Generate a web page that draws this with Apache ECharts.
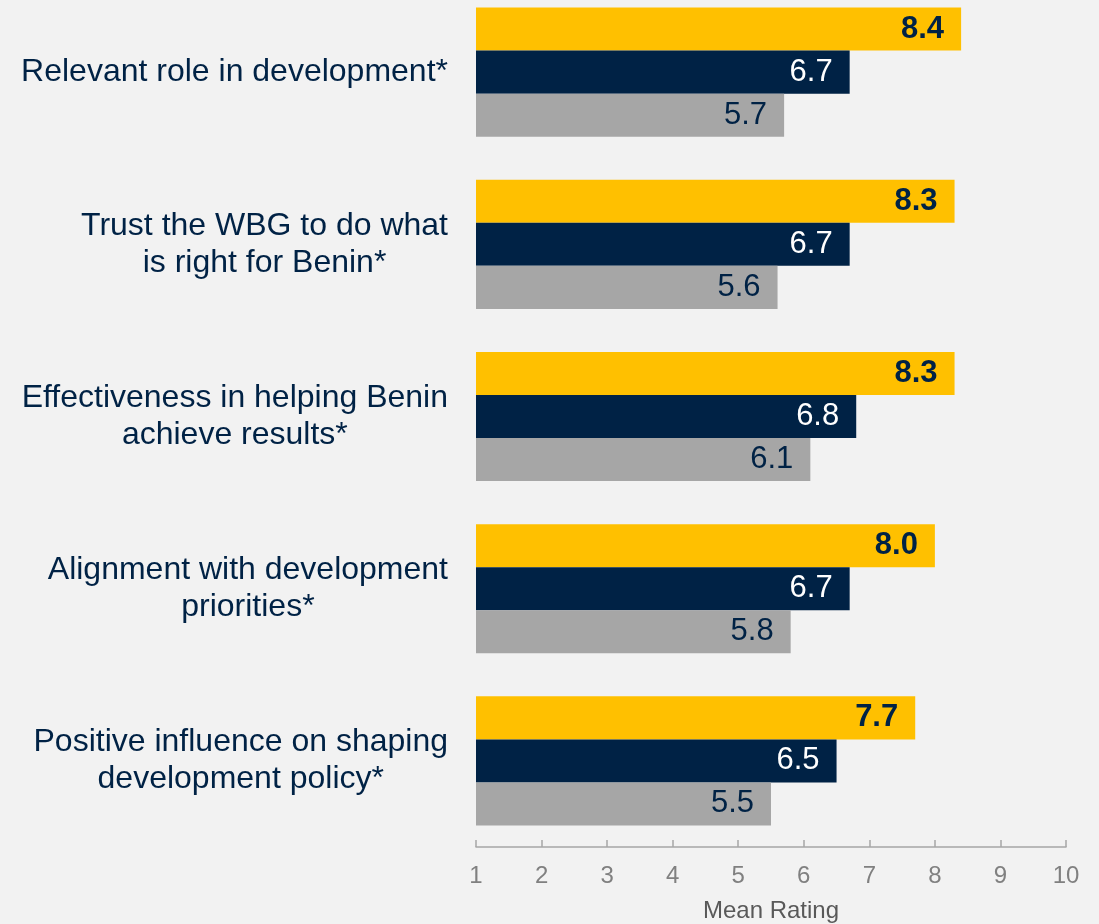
<!DOCTYPE html>
<html>
<head>
<meta charset="utf-8">
<script src="https://cdn.jsdelivr.net/npm/echarts@6/dist/echarts.min.js"></script>
<style>
  html, body { margin: 0; padding: 0; background: #f2f2f2; }
  #chart { width: 1099px; height: 924px; }
</style>
</head>
<body>
<div id="chart"></div>
<script>
// categories, top to bottom
const categories = [
  'Relevant role in development*',
  'Trust the WBG to do what\nis right for Benin*',
  'Effectiveness in helping Benin\nachieve results*',
  'Alignment with development\npriorities*',
  'Positive influence on shaping\ndevelopment policy*'
];
const yellowValues = [8.4, 8.3, 8.3, 8.0, 7.7];
const navyValues = [6.7, 6.7, 6.8, 6.7, 6.5];
const grayValues = [5.7, 5.6, 6.1, 5.8, 5.5];
const xTicks = [1, 2, 3, 4, 5, 6, 7, 8, 9, 10];

const navy = '#002245';
const font = 'Liberation Sans, Arial, sans-serif';

function barSeries (name, data, color, labelColor, bold) {
  return {
    name: name,
    type: 'bar',
    data: data,
    barGap: '0%',
    barCategoryGap: '25%',
    itemStyle: { color: color },
    label: {
      show: true,
      position: 'insideRight',
      distance: 17,
      color: labelColor,
      fontSize: 31,
      fontWeight: bold ? 'bold' : 'normal',
      fontFamily: font,
      formatter: p => p.value.toFixed(1)
    }
  };
}

const chart = echarts.init(document.getElementById('chart'));
chart.setOption({
  backgroundColor: '#f2f2f2',
  animation: false,
  grid: {
    left: 476,
    right: 33,
    top: -14,
    bottom: 77,
    containLabel: false,
    outerBoundsMode: 'none'
  },
  xAxis: {
    type: 'value',
    min: xTicks[0],
    max: xTicks[xTicks.length - 1],
    interval: 1,
    name: 'Mean Rating',
    nameLocation: 'middle',
    nameGap: 52,
    nameTextStyle: { color: '#595959', fontSize: 24, fontFamily: font },
    axisLine: { show: true, lineStyle: { color: '#a6a6a6', width: 1.5 } },
    axisTick: { show: true, inside: true, length: 7, lineStyle: { color: '#a6a6a6', width: 1.5 } },
    axisLabel: { color: '#808080', fontSize: 24, fontFamily: font, margin: 17 },
    splitLine: { show: false }
  },
  yAxis: {
    type: 'category',
    inverse: true,
    data: categories,
    axisLine: { show: false },
    axisTick: { show: false },
    axisLabel: {
      color: navy,
      fontSize: 32,
      fontFamily: font,
      lineHeight: 37,
      align: 'right',
      margin: 28,
      // each line centred inside a right-anchored block
      formatter: v => v.split('\n').map(s => '{c|' + s + '}').join('\n'),
      rich: {
        c: { align: 'center', color: navy, fontSize: 32, fontFamily: font, lineHeight: 37 }
      }
    }
  },
  series: [
    barSeries('Yellow', yellowValues, '#ffc000', navy, true),
    barSeries('Navy', navyValues, navy, '#ffffff', false),
    barSeries('Gray', grayValues, '#a6a6a6', navy, false)
  ]
});
</script>
</body>
</html>
